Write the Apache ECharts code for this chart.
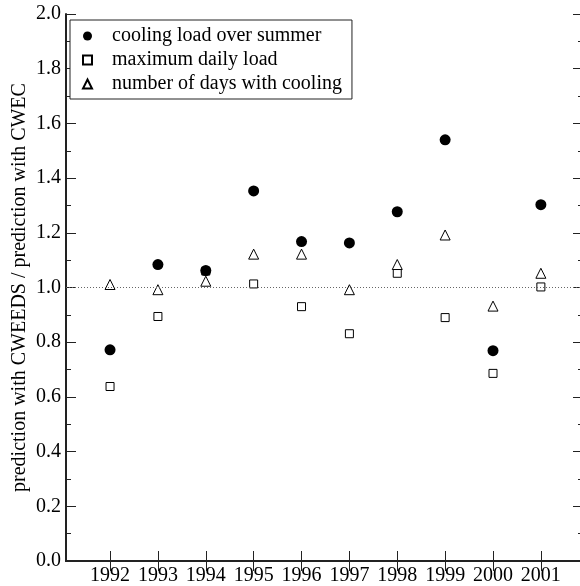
<!DOCTYPE html>
<html>
<head>
<meta charset="utf-8">
<script src="https://cdn.jsdelivr.net/npm/echarts@6/dist/echarts.min.js"></script>
<style>
html,body{margin:0;padding:0;background:#fff;}
#chart{width:580px;height:586px;}
</style>
</head>
<body>
<div id="chart"></div>
<script>
const years = [1992, 1993, 1994, 1995, 1996, 1997, 1998, 1999, 2000, 2001];
const coolingLoad = [0.772, 1.084, 1.062, 1.353, 1.168, 1.163, 1.277, 1.540, 0.769, 1.303];
const maxDailyLoad = [0.638, 0.894, 1.060, 1.013, 0.930, 0.831, 1.052, 0.890, 0.686, 1.002];
const daysWithCooling = [1.011, 0.992, 1.023, 1.122, 1.122, 0.992, 1.084, 1.192, 0.932, 1.052];
const seriesNames = ['cooling load over summer', 'maximum daily load', 'number of days with cooling'];
const yTitle = 'prediction with CWEEDS / prediction with CWEC';

const pair = arr => years.map((y, i) => [y, arr[i]]);
const font = 'Liberation Serif';
const ink = '#222';

const chart = echarts.init(document.getElementById('chart'), null, {renderer: 'canvas'});
const xBase = {
  type: 'value', min: 1991.08, max: 2001.88,
  splitLine: {show: false},
  axisLine: {show: true, lineStyle: {color: ink, width: 2}},
  axisTick: {show: true, inside: true, length: 10, customValues: years, lineStyle: {color: ink, width: 1}}
};
const yBase = {
  type: 'value', min: 0, max: 2, interval: 0.2,
  splitLine: {show: false},
  axisLine: {show: true, lineStyle: {color: ink, width: 2}},
  axisTick: {show: true, inside: true, length: 10, lineStyle: {color: ink, width: 1}},
  minorTick: {show: true, splitNumber: 2, length: 5, lineStyle: {color: ink, width: 1}}
};
chart.setOption({
  animation: false,
  backgroundColor: '#fff',
  textStyle: {fontFamily: font},
  grid: {left: 66, top: 14, bottom: 25, right: -3, containLabel: false, outerBoundsMode: 'none'},
  legend: {
    show: true, orient: 'vertical', left: 70, top: 20,
    data: [
      {name: seriesNames[0], icon: 'circle'},
      {name: seriesNames[1], icon: 'rect'},
      {name: seriesNames[2], icon: 'triangle'}
    ],
    itemWidth: 9, itemHeight: 9, itemGap: 4,
    padding: [6, 10, 5, 12],
    borderColor: ink, borderWidth: 1, backgroundColor: '#fff',
    textStyle: {fontFamily: font, fontSize: 20, color: '#000', lineHeight: 20, padding: [0, 0, 0, 15]}
  },
  xAxis: [
    Object.assign({}, xBase, {
      position: 'bottom',
      axisLabel: {show: true, customValues: years, margin: 5, fontFamily: font, fontSize: 20, color: '#000',
        formatter: v => String(Math.round(v))}
    }),
    Object.assign({}, xBase, {position: 'top', axisLabel: {show: false}})
  ],
  yAxis: [
    Object.assign({}, yBase, {
      position: 'left',
      name: yTitle, nameLocation: 'middle', nameGap: 36, nameRotate: 90, nameMoveOverlap: false,
      nameTextStyle: {fontFamily: font, fontSize: 20, color: '#000'},
      axisLabel: {show: true, margin: 5, fontFamily: font, fontSize: 20, color: '#000',
        formatter: v => v.toFixed(1)}
    }),
    Object.assign({}, yBase, {position: 'right', axisLabel: {show: false}})
  ],
  series: [
    {
      name: seriesNames[1], type: 'scatter', data: pair(maxDailyLoad),
      symbol: 'rect', symbolSize: 8,
      itemStyle: {color: '#fff', borderColor: '#000', borderWidth: 1, opacity: 1},
      z: 2,
      markLine: {
        silent: true, symbol: 'none', label: {show: false},
        lineStyle: {color: '#666', width: 1, type: [1, 2]},
        data: [{yAxis: 1.0}]
      }
    },
    {
      name: seriesNames[2], type: 'scatter', data: pair(daysWithCooling),
      symbol: 'triangle', symbolSize: 10,
      itemStyle: {color: '#fff', borderColor: '#000', borderWidth: 1, opacity: 1},
      z: 3
    },
    {
      name: seriesNames[0], type: 'scatter', data: pair(coolingLoad),
      symbol: 'circle', symbolSize: 11,
      itemStyle: {color: '#000', opacity: 1},
      z: 4
    }
  ]
});
</script>
</body>
</html>
